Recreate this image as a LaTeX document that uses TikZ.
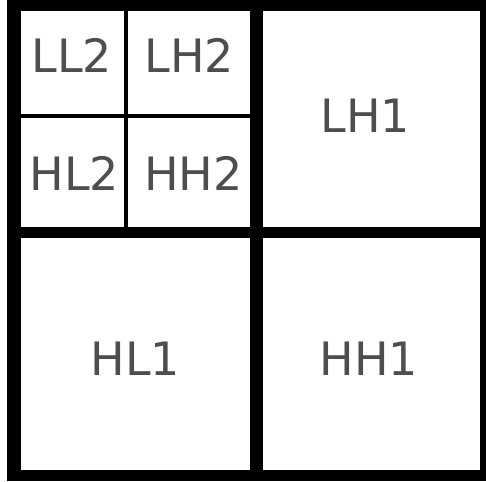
\documentclass[tikz,border=0pt]{standalone}
\usepackage{fontspec}
\setmainfont{DejaVu Sans}
\definecolor{txt}{RGB}{78,78,78}
\begin{document}
\begin{tikzpicture}[x=1pt,y=-1pt,
  cell/.style={fill=white},
  lbl/.style={inner sep=0pt,anchor=base,text=txt,font=\fontsize{46}{55}\selectfont}]
\useasboundingbox (0,0) rectangle (486,481);
% black frame and separators
\fill[black] (7,0) rectangle (486,481);
% cells
\fill[cell] (21,11) rectangle (124,114);
\fill[cell] (128,11) rectangle (250,114);
\fill[cell] (21,118) rectangle (124,227);
\fill[cell] (128,118) rectangle (250,227);
\fill[cell] (263,11) rectangle (480,227);
\fill[cell] (21,238) rectangle (250,470);
\fill[cell] (263,238) rectangle (480,470);
% labels
\node[lbl] (ll2) at (72,73) {LL2};
\node[lbl] (lh2) at (189.5,73) {LH2};
\node[lbl] (hl2) at (74.5,190) {HL2};
\node[lbl] (hh2) at (193.5,190) {HH2};
\node[lbl] (lh1) at (365.5,132) {LH1};
\node[lbl] (hl1) at (135.5,375) {HL1};
\node[lbl] (hh1) at (369,375) {HH1};
\end{tikzpicture}
\end{document}
